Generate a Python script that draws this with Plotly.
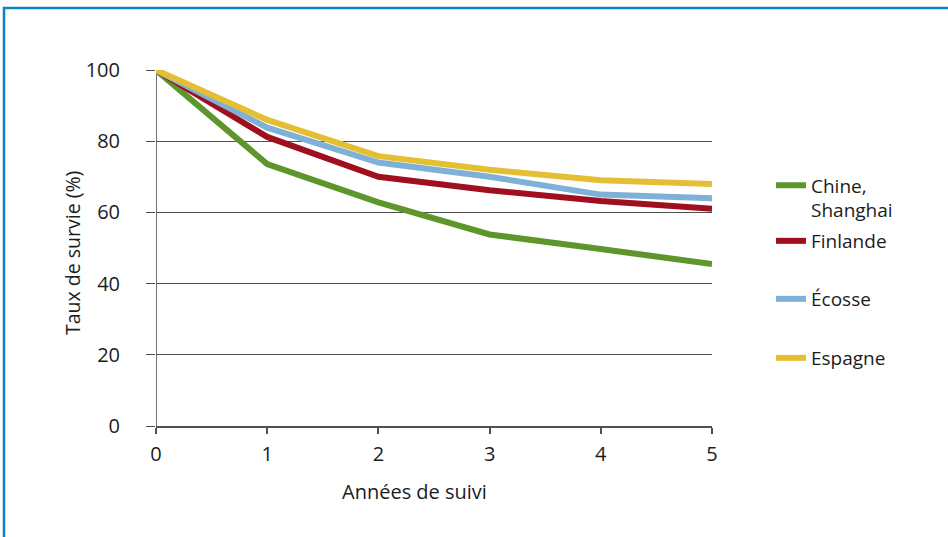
import plotly.graph_objects as go

# Years of follow-up and survival rates (%) by country
annees = [0, 1, 2, 3, 4, 5]
chine_shanghai = [100, 73.6, 62.8, 53.8, 49.7, 45.5]
finlande = [100, 81.2, 70.0, 66.2, 63.2, 61.0]
ecosse = [100, 83.8, 74.0, 70.0, 65.0, 64.0]
espagne = [100, 86.0, 75.8, 72.0, 69.0, 68.0]

y_ticks = [0, 20, 40, 60, 80, 100]

FONT = "Open Sans"
TXT = "#1c1c1c"
GRID = "#4f4f4f"

W, H = 948, 537
L, R, T, B = 156, 236, 70, 111
plot_w = W - L - R
plot_h = H - T - B


def px_to_paper_x(px):
    return (px - L) / plot_w


def px_to_paper_y(py):
    return (H - B - py) / plot_h


series = [
    ("Chine,<br>Shanghai", chine_shanghai, "#5e962c", "legend", 198),
    ("Finlande", finlande, "#a00f1e", "legend2", 241),
    ("Écosse", ecosse, "#7fb1d8", "legend3", 299),
    ("Espagne", espagne, "#e5bf33", "legend4", 358),
]

fig = go.Figure()
for name, vals, color, leg, _ in series:
    fig.add_trace(go.Scatter(
        x=annees, y=vals, name=name, mode="lines",
        line=dict(color=color, width=6),
        legend=leg, cliponaxis=False,
    ))

legend_common = dict(
    xanchor="left", yanchor="middle",
    font=dict(family=FONT, size=19, color=TXT),
    bgcolor="rgba(0,0,0,0)", borderwidth=0, valign="top",
)
legends = {}
for _, _, _, leg, ypx in series:
    legends[leg] = dict(x=px_to_paper_x(771), y=px_to_paper_y(ypx), **legend_common)

fig.update_layout(
    width=W, height=H,
    margin=dict(l=L, r=R, t=T, b=B),
    paper_bgcolor="white", plot_bgcolor="white",
    showlegend=True,
    font=dict(family=FONT, size=19, color=TXT),
    xaxis=dict(
        range=[0, 5], tickvals=annees, ticktext=[str(a) for a in annees],
        showgrid=False, zeroline=False,
        showline=True, linecolor=GRID, linewidth=1.6,
        ticks="outside", ticklen=6, tickcolor=GRID, tickwidth=1.5,
        ticklabelstandoff=3,
        tickfont=dict(family=FONT, size=20, color=TXT),
    ),
    yaxis=dict(
        range=[0, 100], tickvals=y_ticks,
        showgrid=True, gridcolor=GRID, gridwidth=1.4,
        zeroline=False, showline=False,
        ticks="outside", ticklen=9, tickcolor=GRID, tickwidth=1.4,
        ticklabelstandoff=22,
        tickfont=dict(family=FONT, size=20, color=TXT),
    ),
    annotations=[
        dict(text="Années de suivi", xref="paper", yref="paper",
             x=px_to_paper_x(414), y=px_to_paper_y(491),
             xanchor="center", yanchor="middle", showarrow=False,
             font=dict(family=FONT, size=20, color=TXT)),
        dict(text="Taux de survie (%)", xref="paper", yref="paper",
             x=px_to_paper_x(72), y=px_to_paper_y(253),
             xanchor="center", yanchor="middle", textangle=-90, showarrow=False,
             font=dict(family=FONT, size=19.5, color=TXT)),
    ],
    shapes=[
        # vertical axis line at x = 0
        dict(type="line", xref="x", yref="y", x0=0, x1=0, y0=0, y1=100,
             line=dict(color=GRID, width=1.6), layer="below"),
        # blue frame around the figure
        dict(type="rect", xref="paper", yref="paper",
             x0=px_to_paper_x(4), x1=px_to_paper_x(W + 20),
             y0=px_to_paper_y(H + 20), y1=px_to_paper_y(8),
             line=dict(color="#0a84bf", width=2.5)),
    ],
    **legends,
)

fig.write_html("out.html")
